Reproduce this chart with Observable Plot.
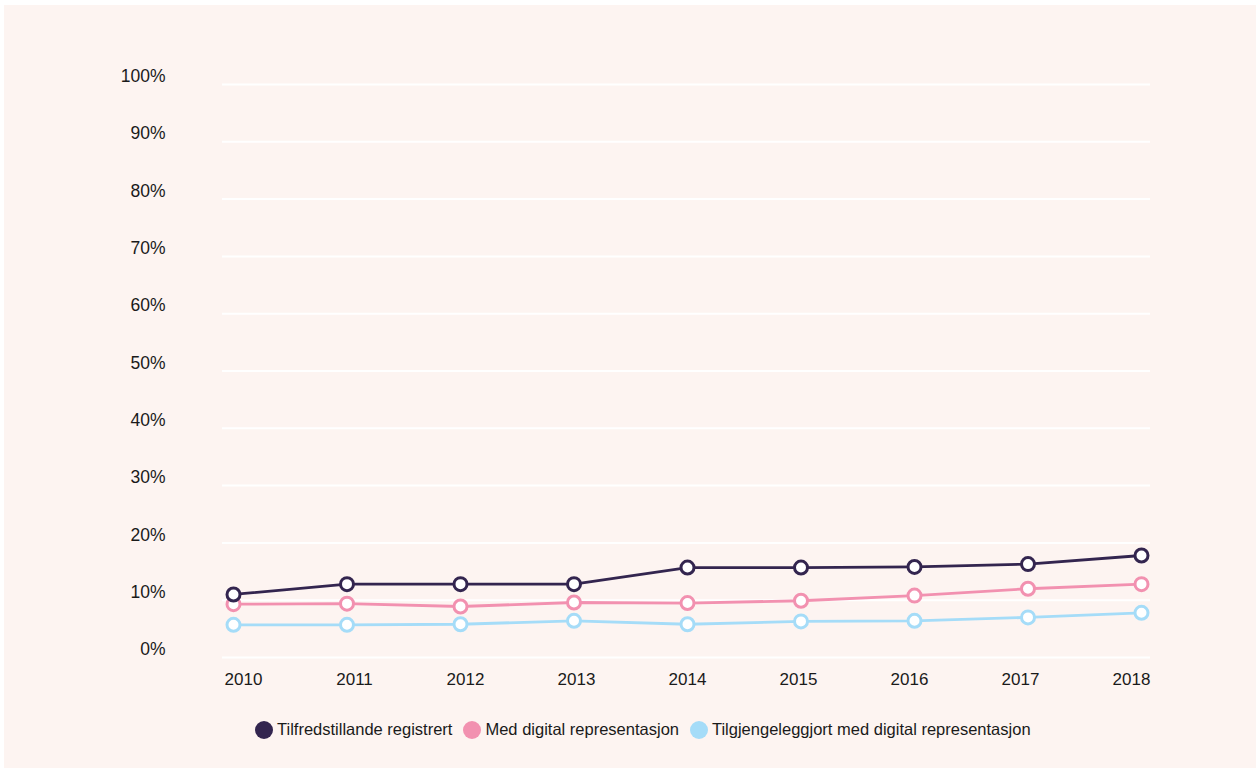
<!DOCTYPE html>
<html>
<head>
<meta charset="utf-8">
<script src="https://cdn.jsdelivr.net/npm/d3@7"></script>
<script src="https://cdn.jsdelivr.net/npm/@observablehq/plot@0.6"></script>
<style>
  html, body { margin: 0; padding: 0; background: #ffffff; }
  #panel { position: absolute; left: 4px; top: 5px; width: 1252px; height: 763px; background: #fdf4f1; }
  #chart { position: absolute; left: 0; top: 0; }
  #legend { position: absolute; left: 255px; top: 720px; display: flex; align-items: center;
            font-family: "Liberation Sans", Arial, sans-serif; font-size: 16.5px; color: #1a1a1a; }
  .item { display: flex; align-items: center; margin-right: 11px; }
  .sw { width: 18px; height: 18px; border-radius: 50%; margin-right: 4px; }
</style>
</head>
<body>
<div id="panel"></div>
<div id="chart"></div>
<div id="legend"></div>
<script>
const years = [2010, 2011, 2012, 2013, 2014, 2015, 2016, 2017, 2018];
const seriesNames = ["Tilfredstillande registrert", "Med digital representasjon", "Tilgjengeleggjort med digital representasjon"];
const registrert = [11.0, 12.8, 12.8, 12.8, 15.7, 15.7, 15.8, 16.3, 17.8];
const digital = [9.3, 9.4, 8.9, 9.6, 9.5, 9.9, 10.8, 12.0, 12.8];
const tilgjengeleg = [5.7, 5.7, 5.8, 6.4, 5.8, 6.3, 6.4, 7.0, 7.8];
const yTicks = [0, 10, 20, 30, 40, 50, 60, 70, 80, 90, 100];
const colors = ["#33254f", "#f291b0", "#a5dcf8"];

const valuesBySeries = [registrert, digital, tilgjengeleg];
const table = [];
valuesBySeries.forEach((vals, si) => {
  vals.forEach((v, i) => table.push({year: years[i], value: v, series: seriesNames[si]}));
});

const labelStyle = {fontSize: 17, fill: "#1a1a1a", letterSpacing: "0.5px"};
const marks = [
  Plot.ruleY(yTicks, {stroke: "#ffffff", strokeWidth: 2}),
  Plot.axisY(yTicks, {tickSize: 0, tickPadding: 57, dy: -8, tickFormat: d => d + "%",
    label: null, ...labelStyle, fontSize: 17.5})
];
// x labels are spread slightly inside the point positions (first/last aligned to grid ends)
years.forEach((yr, i) => {
  marks.push(Plot.axisX([yr], {tickSize: 0, tickPadding: 15, tickFormat: d => String(d),
    dx: 10 - 2.5 * i, label: null, ...labelStyle}));
});
// draw in reverse so the first series is on top
for (let si = seriesNames.length - 1; si >= 0; si--) {
  const data = table.filter(d => d.series === seriesNames[si]);
  marks.push(Plot.line(data, {x: "year", y: "value", stroke: colors[si], strokeWidth: 2.8}));
  marks.push(Plot.dot(data, {x: "year", y: "value", r: 6.5, fill: "#ffffff", stroke: colors[si], strokeWidth: 3}));
}

const chart = Plot.plot({
  width: 1260,
  height: 700,
  marginLeft: 222,
  marginRight: 110,
  marginTop: 84,
  marginBottom: 43,
  insetLeft: 11,
  insetRight: 9,
  style: {background: "transparent", fontFamily: "'Liberation Sans', Arial, sans-serif"},
  x: {type: "linear", domain: [2010, 2018]},
  y: {domain: [0, 100]},
  marks
});
document.getElementById("chart").appendChild(chart);

const legend = document.getElementById("legend");
seriesNames.forEach((name, i) => {
  const item = document.createElement("div");
  item.className = "item";
  const sw = document.createElement("div");
  sw.className = "sw";
  sw.style.background = colors[i];
  const t = document.createElement("span");
  t.textContent = name;
  item.appendChild(sw);
  item.appendChild(t);
  legend.appendChild(item);
});
</script>
</body>
</html>
